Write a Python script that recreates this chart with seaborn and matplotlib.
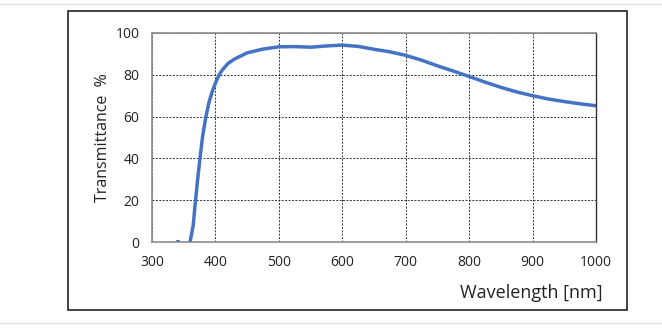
import pandas as pd
import matplotlib.pyplot as plt
import seaborn as sns
from matplotlib.lines import Line2D
from matplotlib.patches import Rectangle

# Transmittance curve
wavelength = [360, 365, 368, 372, 376, 380, 385, 390, 395, 400, 405, 410, 420, 430,
              450, 475, 500, 525, 550, 575, 600, 625, 650, 675, 700, 725, 750,
              775, 800, 825, 850, 875, 900, 925, 950, 975, 1000]
transmittance = [0, 8, 18, 30, 41, 51, 60, 67, 72, 76, 79.5, 82, 85.5, 87.5,
                 90.5, 92.3, 93.4, 93.5, 93.2, 93.8, 94.2, 93.6, 92.2, 91, 89.3, 87, 84.3,
                 81.8, 79.2, 76.5, 74, 71.8, 70, 68.4, 67.2, 66.1, 65.2]
# small blip on the baseline near 340 nm
blip_x = [339, 342]
blip_y = [0.4, 0.4]

x_ticks = [300, 400, 500, 600, 700, 800, 900, 1000]
y_ticks = [0, 20, 40, 60, 80, 100]

df = pd.DataFrame({'Wavelength': wavelength, 'Transmittance': transmittance})
df_blip = pd.DataFrame({'Wavelength': blip_x, 'Transmittance': blip_y})

sns.set_theme(style="white")
plt.rcParams['font.family'] = ['Open Sans', 'DejaVu Sans']

fig = plt.figure(figsize=(6.62, 3.30), dpi=100)
ax = fig.add_axes([152 / 662, 1 - 242 / 330, 444 / 662, 209 / 330])

# outer frame and page separators
fig.add_artist(Rectangle((68 / 662, 1 - 310 / 330), 559 / 662, 299 / 330,
                         transform=fig.transFigure, fill=False, edgecolor='#222222', lw=1.2))
fig.add_artist(Line2D([0, 1], [1 - 4 / 330] * 2, transform=fig.transFigure, color='#e2e2e2', lw=1))
fig.add_artist(Line2D([0, 1], [1 - 323 / 330] * 2, transform=fig.transFigure, color='#e2e2e2', lw=1))

sns.lineplot(data=df, x='Wavelength', y='Transmittance', ax=ax, color='#4472C4', lw=2.5)
sns.lineplot(data=df_blip, x='Wavelength', y='Transmittance', ax=ax, color='#4472C4', lw=1.5)

ax.set_xlim(300, 1000)
ax.set_ylim(0, 100)
ax.set_xticks(x_ticks)
ax.set_yticks(y_ticks)
ax.tick_params(axis='both', length=0, labelsize=10, colors='#222222')
ax.tick_params(axis='x', pad=9)
ax.tick_params(axis='y', pad=9)

ax.grid(True, color='#333333', linestyle=(0, (2, 1.5)), linewidth=0.7)
for side in ['left', 'bottom', 'top']:
    ax.spines[side].set_color('#8c8c8c')
    ax.spines[side].set_linewidth(1.2)
ax.spines['right'].set_color('#333333')
ax.spines['right'].set_linewidth(1.0)

ax.set_xlabel('')
ax.set_ylabel('Transmittance  %', fontsize=11.5, color='#222222', labelpad=3)
fig.text(603 / 662, 1 - 293 / 330, 'Wavelength [nm]', ha='right', va='center',
         fontsize=13, color='#222222')

plt.savefig('out.png', dpi=100)
